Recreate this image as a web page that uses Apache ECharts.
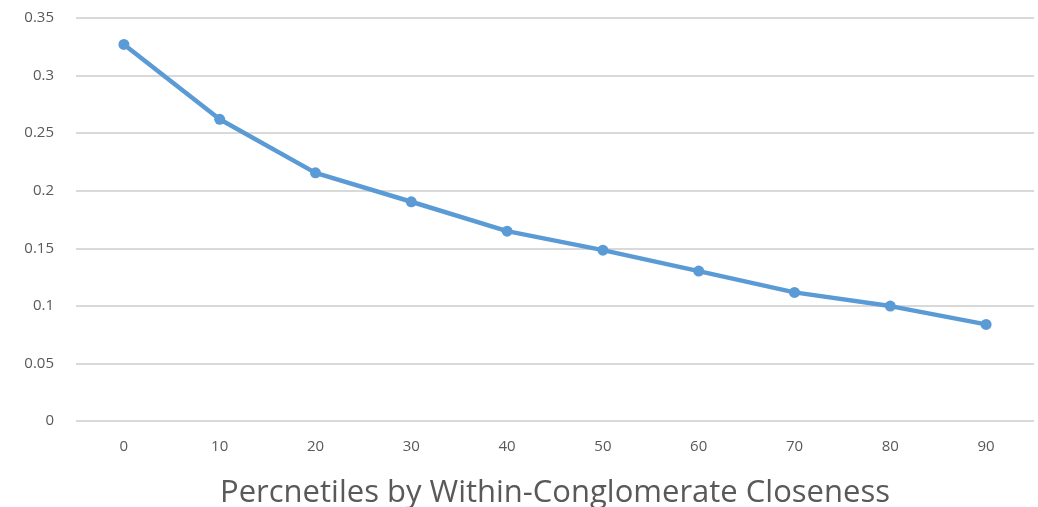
<!DOCTYPE html>
<html>
<head>
<meta charset="utf-8">
<script src="https://cdn.jsdelivr.net/npm/echarts@6/dist/echarts.min.js"></script>
<style>
  html, body { margin: 0; padding: 0; background: #ffffff; }
  #chart { width: 1038px; height: 507px; }
</style>
</head>
<body>
<div id="chart"></div>
<script>
// Percentile buckets along the x axis
const percentiles = ['0', '10', '20', '30', '40', '50', '60', '70', '80', '90'];
// Measured value per percentile bucket
const values = [0.327, 0.262, 0.2155, 0.1904, 0.1649, 0.1484, 0.1302, 0.1117, 0.0998, 0.0839];
// Y axis range and step
const yMin = 0;
const yMax = 0.35;
const yStep = 0.05;
const xTitle = 'Percnetiles by Within-Conglomerate Closeness';

const chart = echarts.init(document.getElementById('chart'), null, { renderer: 'canvas' });
const font = '"Open Sans", "Noto Sans", sans-serif';

chart.setOption({
  animation: false,
  backgroundColor: '#ffffff',
  grid: { left: 76, right: 4, top: 18, bottom: 86, containLabel: false, outerBoundsMode: 'none' },
  xAxis: {
    type: 'category',
    data: percentiles,
    boundaryGap: true,
    axisLine: { show: false },
    axisTick: { show: false },
    axisLabel: { color: '#595959', fontSize: 15, fontFamily: font, margin: 18 },
    name: xTitle,
    nameLocation: 'middle',
    nameGap: 57,
    nameTextStyle: { color: '#595959', fontSize: 31, fontFamily: font }
  },
  yAxis: {
    type: 'value',
    min: yMin,
    max: yMax,
    interval: yStep,
    axisLine: { show: false },
    axisTick: { show: false },
    splitLine: { lineStyle: { color: '#d9d9d9', width: 2 } },
    axisLabel: { color: '#595959', fontSize: 15, fontFamily: font, margin: 22 }
  },
  series: [{
    type: 'line',
    data: values,
    symbol: 'circle',
    symbolSize: 11,
    lineStyle: { color: '#5b9bd5', width: 4.5 },
    itemStyle: { color: '#5b9bd5' }
  }]
});
</script>
</body>
</html>
